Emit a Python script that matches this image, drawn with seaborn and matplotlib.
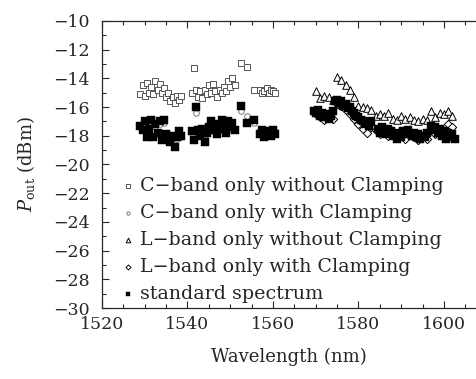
import numpy as np
import pandas as pd
import matplotlib
matplotlib.use("Agg")
import matplotlib.pyplot as plt
import seaborn as sns
from matplotlib.ticker import MultipleLocator

# C-band wavelengths (nm)
wl_c = [1529.0, 1529.5, 1530.0, 1530.5, 1531.0, 1531.5, 1532.0, 1532.5, 1533.0, 1533.5,
        1534.0, 1534.5, 1535.0, 1535.5, 1536.0, 1536.5, 1537.0, 1537.5, 1538.0, 1538.5,
        1541.0, 1541.5, 1542.0, 1542.5, 1543.0, 1543.5, 1544.0, 1544.5, 1545.0, 1545.5,
        1546.0, 1546.5, 1547.0, 1547.5, 1548.0, 1548.5, 1549.0, 1549.5, 1550.0, 1550.5,
        1551.0, 1552.5, 1554.0, 1555.5, 1557.0, 1557.5, 1558.0, 1558.5, 1559.0, 1559.5,
        1560.0, 1560.5]

c_no_clamp = [-15.1, -14.5, -15.2, -14.3, -15.0, -14.6, -15.1, -14.2, -14.8, -14.4,
              -15.0, -14.7, -15.3, -15.0, -15.6, -15.3, -15.7, -15.2, -15.5, -15.2,
              -15.0, -13.3, -14.8, -15.3, -14.9, -15.4, -14.8, -15.1, -14.5, -15.0,
              -14.4, -14.9, -15.3, -14.8, -15.0, -14.6, -14.9, -14.2, -14.6, -14.0,
              -14.5, -12.9, -13.2, -14.8, -14.8, -15.0, -14.9, -14.7, -15.0, -14.8,
              -14.9, -15.0]

c_clamp = [-17.4, -17.5, -17.2, -18.0, -17.6, -17.1, -18.0, -17.4, -17.9, -17.2,
           -18.2, -17.1, -18.0, -18.1, -18.3, -18.1, -18.6, -18.2, -17.9, -18.1,
           -17.8, -18.2, -16.4, -17.7, -17.9, -17.6, -18.3, -17.9, -17.5, -17.2,
           -17.7, -17.3, -17.8, -17.4, -17.1, -17.6, -17.7, -17.2, -17.5, -17.3,
           -17.5, -16.3, -16.6, -17.1, -17.7, -17.6, -17.9, -17.6, -17.7, -17.8,
           -17.5, -17.7]

c_std = [-17.3, -17.6, -17.0, -18.1, -17.5, -16.9, -18.1, -17.2, -17.8, -17.0,
         -18.3, -16.9, -17.9, -18.2, -18.4, -18.0, -18.8, -18.1, -17.7, -18.0,
         -17.7, -18.3, -16.0, -17.6, -18.0, -17.5, -18.4, -17.8, -17.4, -17.0,
         -17.6, -17.2, -17.9, -17.3, -16.9, -17.5, -17.8, -17.0, -17.4, -17.1,
         -17.6, -15.9, -17.1, -16.9, -17.9, -17.6, -18.1, -17.7, -17.8, -18.0,
         -17.6, -17.9]

# L-band wavelengths (nm), coarse grid for the open markers
wl_l = [1570, 1571, 1572, 1573, 1574, 1575, 1576, 1577, 1578, 1579, 1580,
        1581, 1582, 1583, 1584, 1585, 1586, 1587, 1588, 1589, 1590, 1591,
        1592, 1593, 1594, 1595, 1596, 1597, 1598, 1599, 1600, 1601, 1602]

l_no_clamp = [-14.9, -15.4, -15.2, -15.3, -15.5, -13.9, -14.1, -14.5, -14.8, -15.3, -15.9,
              -16.0, -16.1, -16.2, -16.6, -16.5, -16.6, -16.4, -16.8, -16.9, -16.6, -16.8,
              -16.7, -16.9, -17.0, -16.8, -16.9, -16.3, -16.7, -16.4, -16.5, -16.3, -16.6]

l_clamp = [-16.5, -16.7, -16.9, -16.6, -16.8, -15.8, -15.9, -16.2, -16.5, -16.8, -17.2,
           -17.5, -17.8, -17.4, -17.6, -17.9, -17.7, -18.0, -17.8, -18.1, -17.9, -18.2,
           -17.9, -18.1, -18.3, -18.0, -18.2, -17.6, -17.9, -17.5, -17.8, -17.2, -17.4]

# L-band standard spectrum, denser grid
wl_l_std = [1569.5, 1570.0, 1570.5, 1571.0, 1571.5, 1572.0, 1572.5, 1573.0, 1573.5, 1574.0,
            1574.5, 1575.0, 1575.5, 1576.0, 1576.5, 1577.0, 1577.5, 1578.0, 1578.5, 1579.0,
            1579.5, 1580.0, 1580.5, 1581.0, 1581.5, 1582.0, 1582.5, 1583.0, 1584.5, 1585.0,
            1585.5, 1586.0, 1586.5, 1587.0, 1587.5, 1588.0, 1588.5, 1589.0, 1589.5, 1590.0,
            1590.5, 1591.0, 1591.5, 1592.0, 1592.5, 1593.0, 1593.5, 1594.0, 1594.5, 1595.0,
            1595.5, 1596.0, 1597.0, 1597.5, 1598.0, 1598.5, 1599.0, 1599.5, 1600.0, 1600.5,
            1601.0, 1601.5, 1602.0, 1602.5]

l_std = [-16.3, -16.4, -16.2, -16.6, -16.4, -16.7, -16.5, -16.8, -16.6, -16.3,
         -15.6, -15.5, -15.7, -15.6, -15.9, -15.8, -16.1, -16.0, -16.3, -16.4,
         -16.6, -16.7, -16.9, -17.0, -17.2, -17.1, -17.3, -17.0, -17.5, -17.8,
         -17.4, -17.6, -17.9, -17.5, -17.7, -18.0, -17.8, -18.2, -17.9, -18.1,
         -17.7, -17.9, -17.6, -17.9, -18.0, -17.8, -18.1, -17.9, -18.2, -18.0,
         -18.1, -17.8, -17.3, -17.6, -17.4, -17.8, -17.5, -18.0, -17.7, -18.2,
         -17.8, -18.1, -17.9, -18.2]

labels = ["C\u2212band only without Clamping", "C\u2212band only with Clamping",
          "L\u2212band only without Clamping", "L\u2212band only with Clamping",
          "standard spectrum"]

sns.set_style("ticks")
plt.rcParams["font.family"] = ["DejaVu Serif"]
plt.rcParams["mathtext.fontset"] = "dejavuserif"

fig = plt.figure(figsize=(4.76, 3.79), dpi=100)
ax = fig.add_axes([0.2143, 0.187, 0.7857, 0.758])

open_kw = dict(facecolor="white", linewidth=0.7, ax=ax)
sns.scatterplot(x=wl_c, y=c_no_clamp, marker="s", s=16, edgecolor="#555555", label=labels[0], **open_kw)
sns.scatterplot(x=wl_c, y=c_clamp, marker="o", s=16, edgecolor="#777777", label=labels[1], **open_kw)
sns.scatterplot(x=wl_l, y=l_no_clamp, marker="^", s=30, edgecolor="black", label=labels[2], **open_kw)
sns.scatterplot(x=wl_l, y=l_clamp, marker="D", s=18, edgecolor="black", label=labels[3], **open_kw)
sns.scatterplot(x=wl_c + wl_l_std, y=c_std + l_std, marker="s", s=30, color="black",
                edgecolor="black", linewidth=0.3, label=labels[4], ax=ax)

ax.set_xlim(1520, 1607.5)
ax.set_ylim(-30, -10)
ax.xaxis.set_major_locator(MultipleLocator(20))
ax.xaxis.set_minor_locator(MultipleLocator(5))
ax.yaxis.set_major_locator(MultipleLocator(2))
ax.yaxis.set_minor_locator(MultipleLocator(1))
ax.tick_params(which="both", direction="in", top=True, labelsize=12.5, width=0.8)
ax.tick_params(which="major", length=5)
ax.tick_params(which="minor", length=3)
ax.tick_params(axis="y", which="major", pad=9)
ax.tick_params(axis="x", which="major", pad=6)
ax.yaxis.set_major_formatter(matplotlib.ticker.FuncFormatter(lambda v, p: f"\u2212{abs(int(v))}"))
ax.spines["right"].set_visible(False)
for sp in ["left", "bottom", "top"]:
    ax.spines[sp].set_linewidth(0.9)

ax.set_xlabel("Wavelength (nm)", fontsize=13, labelpad=10)
ax.set_ylabel(r"$P_{\mathrm{out}}$ (dBm)", fontsize=13, labelpad=11)

ax.legend(loc="upper left", bbox_to_anchor=(0.03, 0.483), frameon=False, fontsize=13.7,
          handletextpad=0.2, labelspacing=0.47, borderaxespad=0, handlelength=0.8,
          markerscale=0.6)

fig.savefig("out.png", dpi=100)
